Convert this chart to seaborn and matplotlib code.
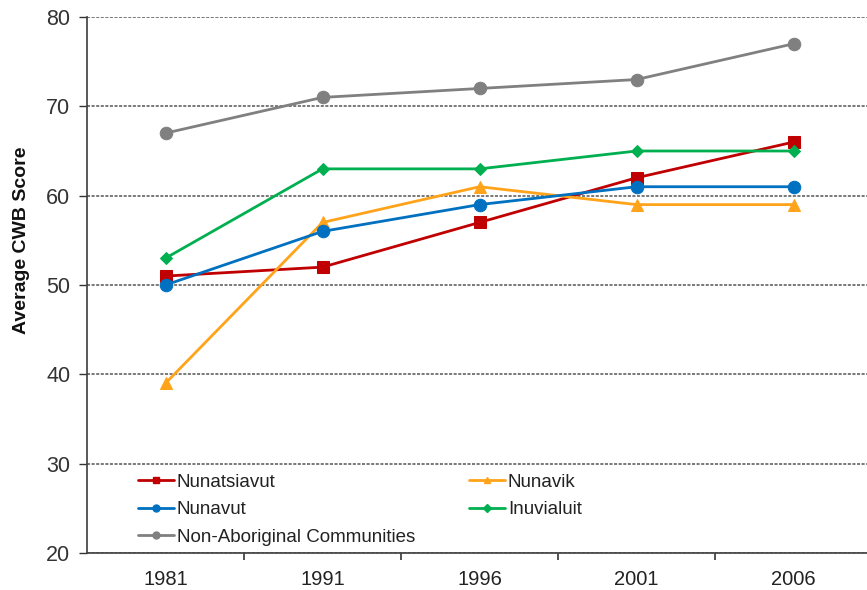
import matplotlib
matplotlib.use("Agg")
import matplotlib.pyplot as plt
import seaborn as sns
import pandas as pd

years = ["1981", "1991", "1996", "2001", "2006"]
nunatsiavut = [51, 52, 57, 62, 66]
nunavik = [39, 57, 61, 59, 59]
nunavut = [50, 56, 59, 61, 61]
inuvialuit = [53, 63, 63, 65, 65]
non_aboriginal = [67, 71, 72, 73, 77]

series = {
    "Nunatsiavut": (nunatsiavut, "#C00000", "s", 9),
    "Nunavik": (nunavik, "#FFA31A", "^", 9),
    "Nunavut": (nunavut, "#0070C0", "o", 9),
    "Inuvialuit": (inuvialuit, "#00B050", "D", 6),
    "Non-Aboriginal Communities": (non_aboriginal, "#808080", "o", 9),
}

sns.set_theme(style="white")
plt.rcParams["font.family"] = ["Liberation Sans", "DejaVu Sans"]

fig = plt.figure(figsize=(8.67, 5.90), dpi=100)
ax = fig.add_axes([87 / 867, 37 / 590, 785 / 867, 536 / 590])

for name, (vals, col, mk, ms) in series.items():
    df = pd.DataFrame({"year": years, "score": vals})
    sns.lineplot(data=df, x="year", y="score", ax=ax, color=col, marker=mk,
                 markersize=ms, markeredgecolor=col, linewidth=2, sort=False)

ax.set_xlim(-0.5, 4.5)
ax.set_ylim(20, 80)
ax.set_yticks(range(20, 81, 10))
ax.set_xticks(range(5))
ax.set_xticklabels(years)
ax.set_xticks([0.5, 1.5, 2.5, 3.5, 4.5], minor=True)
ax.tick_params(axis="x", which="major", length=0, labelsize=14.5, pad=12, colors="#222222")
ax.tick_params(axis="x", which="minor", length=5, width=1.2, direction="out", color="#333333", bottom=True)
ax.tick_params(axis="y", length=6, width=1, direction="out", color="#333333", left=True,
               labelsize=15.5, labelcolor="#333333", pad=6)
ax.grid(axis="y", linestyle=(0, (2, 1)), color="#555555", linewidth=1.1)
ax.set_axisbelow(True)
for s in ["top", "right"]:
    ax.spines[s].set_visible(False)
ax.spines["left"].set_color("#444444")
ax.spines["bottom"].set_color("#444444")
ax.set_xlabel("")
ax.set_ylabel("Average CWB Score", fontsize=14, fontweight="bold", color="#111111")
ax.yaxis.set_label_coords(-0.073, 0.584)

order = ["Nunatsiavut", "Nunavut", "Non-Aboriginal Communities", "Nunavik", "Inuvialuit"]
leg_handles = []
for name in order:
    vals, col, mk, ms = series[name]
    h, = ax.plot([], [], color=col, marker=mk, markersize=5 if mk != "D" else 4,
                 linewidth=2, markeredgecolor=col)
    leg_handles.append(h)
leg = ax.legend(leg_handles, order, ncol=2, frameon=False, fontsize=13.5,
                loc="upper left", bbox_to_anchor=(0.044, 0.179),
                handlelength=1.9, handletextpad=0.15, columnspacing=2.9,
                labelspacing=0.54)
for t in leg.get_texts():
    t.set_color("#222222")

fig.savefig("out.png", dpi=100)
